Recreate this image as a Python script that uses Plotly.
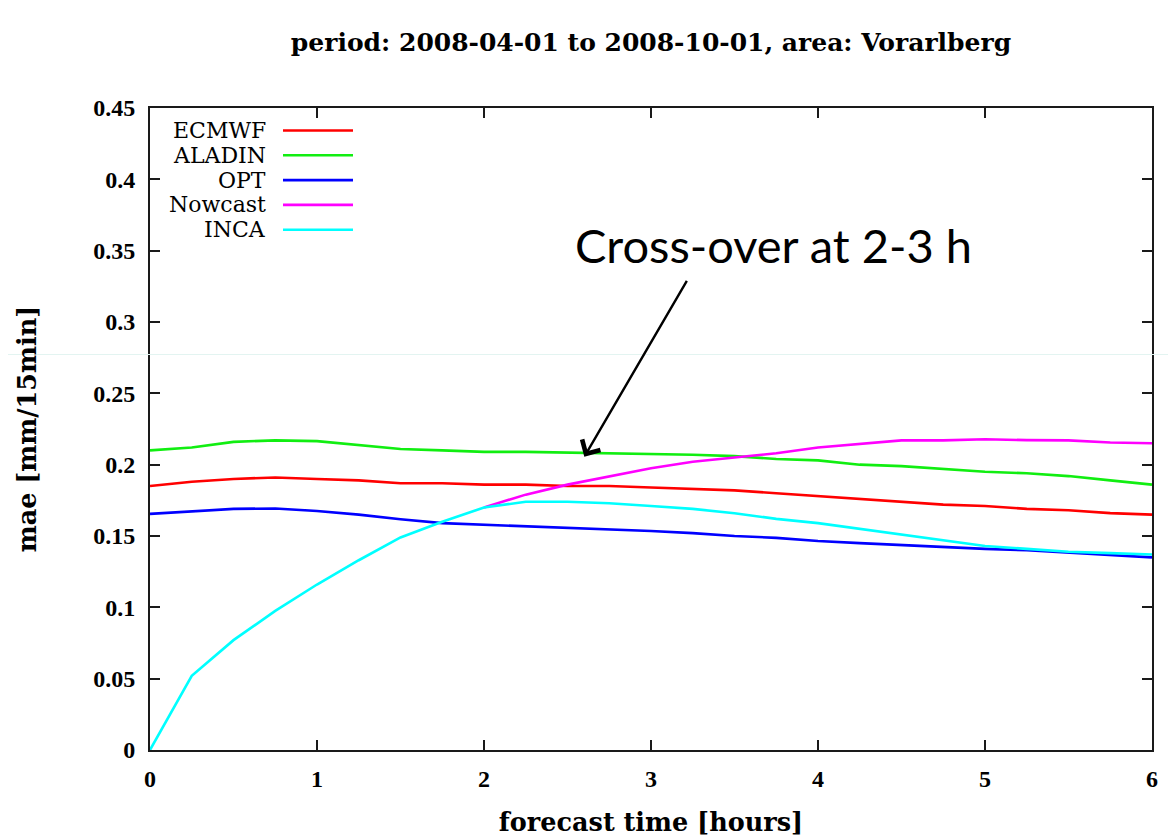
import plotly.graph_objects as go

hours = [i * 0.25 for i in range(25)]

ecmwf = [0.185, 0.188, 0.190, 0.191, 0.190, 0.189, 0.187, 0.187, 0.186, 0.186, 0.185, 0.185, 0.184,
         0.183, 0.182, 0.180, 0.178, 0.176, 0.174, 0.172, 0.171, 0.169, 0.168, 0.166, 0.165]
aladin = [0.210, 0.212, 0.216, 0.217, 0.2165, 0.214, 0.211, 0.210, 0.209, 0.209, 0.2085, 0.208, 0.208,
          0.207, 0.206, 0.204, 0.203, 0.200, 0.199, 0.197, 0.195, 0.194, 0.192, 0.189, 0.186]
opt = [0.1655, 0.167, 0.169, 0.1693, 0.1675, 0.165, 0.1617, 0.159, 0.158, 0.157, 0.156, 0.155, 0.1535,
       0.152, 0.150, 0.1487, 0.1465, 0.145, 0.1437, 0.142, 0.141, 0.140, 0.1385, 0.137, 0.135]
nowcast_hours = [2.0 + i * 0.25 for i in range(17)]
nowcast = [0.170, 0.179, 0.186, 0.192, 0.1975, 0.202, 0.205, 0.208, 0.212, 0.2145, 0.217, 0.217,
           0.2178, 0.2172, 0.217, 0.2155, 0.215]
inca = [0.0, 0.052, 0.077, 0.0975, 0.116, 0.133, 0.149, 0.160, 0.170, 0.174, 0.174, 0.173, 0.171,
        0.169, 0.166, 0.162, 0.159, 0.155, 0.151, 0.147, 0.143, 0.141, 0.139, 0.138, 0.137]

series_names = ["ECMWF", "ALADIN", "OPT", "Nowcast", "INCA"]
series_colors = ["#ff0000", "#11ee11", "#0000ff", "#ff00ff", "#00ffff"]
series_x = [hours, hours, hours, nowcast_hours, hours]
series_y = [ecmwf, aladin, opt, nowcast, inca]

x_ticks = [0, 1, 2, 3, 4, 5, 6]
y_ticks = [0, 0.05, 0.1, 0.15, 0.2, 0.25, 0.3, 0.35, 0.4, 0.45]
y_ticktext = ["0", "0.05", "0.1", "0.15", "0.2", "0.25", "0.3", "0.35", "0.4", "0.45"]

title_text = "period: 2008-04-01 to 2008-10-01, area: Vorarlberg"
note_text = "Cross-over at 2-3 h"

SERIF = "Liberation Serif"
WIDE_SERIF = "DejaVu Serif"
OFF = 8  # page body margin
W, H = 1168, 829
ML, MR, MT, MB = 142, 24, 100, 87
PW, PH = W - ML - MR, H - MT - MB


def px_x(p):  # page pixel -> paper
    return (p - OFF - ML) / PW


def px_y(p):
    return (H - MB - (p - OFF)) / PH


fig = go.Figure()
for name, color, xs, ys in zip(series_names, series_colors, series_x, series_y):
    fig.add_trace(go.Scatter(x=xs, y=ys, mode="lines", name=name,
                             line=dict(color=color, width=2.6), showlegend=False))

shapes = []
annotations = []
# manual gnuplot-style key: text right-aligned, sample line to the right
for i, (name, color) in enumerate(zip(series_names, series_colors)):
    yp = 130.5 + 24.8 * i
    annotations.append(dict(xref="paper", yref="paper", x=px_x(268), y=px_y(yp),
                            xanchor="right", yanchor="middle", text=name, showarrow=False,
                            font=dict(family=WIDE_SERIF, size=22, color="black")))
    shapes.append(dict(type="line", xref="paper", yref="paper", x0=px_x(283), x1=px_x(353),
                       y0=px_y(yp), y1=px_y(yp), line=dict(color=color, width=2.6)))

# faint artefact line across the picture
shapes.append(dict(type="line", xref="paper", yref="paper", x0=px_x(OFF), x1=px_x(1176),
                   y0=px_y(354.5), y1=px_y(354.5), line=dict(color="#e3f4f1", width=1), layer="above"))

annotations.append(dict(xref="x", yref="y", x=2.535, y=0.354, xanchor="left", yanchor="middle",
                        text=note_text, showarrow=False,
                        font=dict(family="Lato", size=47, color="black")))
annotations.append(dict(xref="x", yref="y", x=2.6006, y=0.2056, axref="x", ayref="y",
                        ax=3.2198, ay=0.3299, text="", showarrow=True, arrowhead=4,
                        arrowsize=1.7, arrowwidth=2.4, arrowcolor="black"))

axis_common = dict(showgrid=False, zeroline=False, showline=True, linecolor="#1a1a1a", linewidth=2,
                   mirror="ticks", ticks="inside", ticklen=10, tickwidth=1.5, tickcolor="#1a1a1a",
                   automargin=False,
                   tickfont=dict(family=SERIF, size=24, color="black", weight="bold"))

fig.update_layout(
    width=W, height=H, autosize=False,
    margin=dict(l=ML, r=MR, t=MT, b=MB, autoexpand=False),
    paper_bgcolor="white", plot_bgcolor="white",
    title=dict(text=title_text, x=0.5, xref="paper", xanchor="center", y=1 - (42 - OFF) / H,
               yanchor="middle", automargin=False,
               font=dict(family=WIDE_SERIF, size=25, color="black", weight="bold")),
    xaxis=dict(range=[0, 6], tickvals=x_ticks, ticklabelstandoff=6,
               title=dict(text="forecast time [hours]", standoff=29,
                          font=dict(family=WIDE_SERIF, size=25.5, color="black", weight="bold")),
               **axis_common),
    yaxis=dict(range=[0, 0.45], tickvals=y_ticks, ticktext=y_ticktext, ticklabelstandoff=8,
               title=dict(text="mae [mm/15min]", standoff=49,
                          font=dict(family=WIDE_SERIF, size=25.5, color="black", weight="bold")),
               **axis_common),
    shapes=shapes, annotations=annotations,
)

fig.write_html("out.html")
